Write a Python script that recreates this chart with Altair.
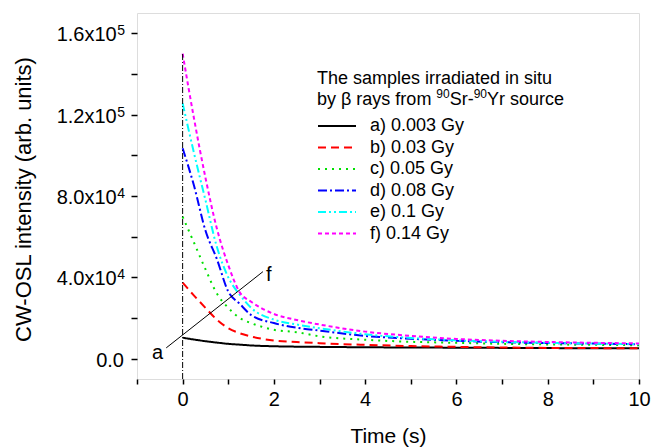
import altair as alt
import pandas as pd

# ---- data ----
time = [0, 0.25, 0.5, 0.75, 1, 1.25, 1.5, 2, 2.5, 3, 4, 5, 6, 7, 8, 9, 10]
series_labels = ["a) 0.003 Gy", "b) 0.03 Gy", "c) 0.05 Gy", "d) 0.08 Gy", "e) 0.1 Gy", "f) 0.14 Gy"]
a_vals = [10300, 9400, 8600, 7900, 7300, 6900, 6500, 6100, 5900, 5800, 5600, 5500, 5400, 5300, 5200, 5150, 5100]
b_vals = [37400, 31000, 25000, 19200, 15000, 12500, 10900, 8900, 8200, 7600, 6800, 6200, 5800, 5500, 5300, 5200, 5100]
c_vals = [69800, 57000, 44000, 32000, 25000, 20000, 17500, 14200, 13000, 11000, 9300, 8300, 7800, 7300, 7000, 6800, 6600]
d_vals = [103500, 85000, 63000, 49000, 33000, 27000, 21500, 17500, 15200, 13800, 11200, 9800, 8800, 8100, 7700, 7400, 7100]
e_vals = [125600, 101000, 78000, 55000, 40000, 31500, 25000, 19200, 16800, 15000, 12000, 10200, 9000, 8300, 7800, 7400, 7200]
f_vals = [150000, 118000, 89000, 64000, 46000, 32700, 28000, 22000, 19000, 16800, 13300, 11200, 9700, 8800, 8200, 7800, 7500]

series_colors = ["#000000", "#FF0000", "#00E000", "#0000FF", "#00FFFF", "#FF00FF"]
series_dashes = [[1, 0], [8, 5], [2, 5], [9, 3, 2, 3], [8, 3, 2, 3, 2, 3], [4, 3]]

x_ticks = [-1, 0, 1, 2, 3, 4, 5, 6, 7, 8, 9, 10]
y_ticks = [0, 20000, 40000, 60000, 80000, 100000, 120000, 140000, 160000]
y_label_values = [0, 40000, 80000, 120000, 160000]
y_label_base = ["0.0", "4.0x10", "8.0x10", "1.2x10", "1.6x10"]
y_label_exp = ["", "4", "4", "5", "5"]

# vertical dash-dot marker at t = 0
vline_x = [0]
vline_y = [-10000]
vline_y2 = [150000]

# diagonal guide "a" -> "f"
guide_x = [-0.36, 1.76]
guide_y = [5300, 42800]
ann_text = ["a", "f"]
ann_x = [-0.55, 1.89]
ann_y = [2900, 41000]

# legend heading text pieces (line 2 has superscript mass numbers)
head_line1 = "The samples irradiated in situ"
head_segments = ["by \u03b2 rays from ", "90", "Sr-", "90", "Yr source"]
head_is_sup = [False, True, False, True, False]

# ---- build tables ----
rows = []
for lab, vals in zip(series_labels, [a_vals, b_vals, c_vals, d_vals, e_vals, f_vals]):
    for t, v in zip(time, vals):
        rows.append({"t": t, "v": v, "s": lab})
df = pd.DataFrame(rows)

FONT = "Liberation Sans"
HEAD_SIZE = 18
SUP_SIZE = 12
W = {"b": .556, "y": .5, " ": .278, "\u03b2": .572, "r": .333, "a": .556, "s": .5, "f": .278,
     "o": .556, "m": .833, "9": .556, "0": .556, "S": .667, "-": .333, "Y": .667, "u": .556,
     "c": .5, "e": .556}

def text_width(txt, size):
    return sum(W.get(ch, .556) for ch in txt) * size

HEAD_X = 180
LINE1_Y = 71
LINE2_Y = 92
SUP_RAISE = 7

seg_rows = []
cx = HEAD_X
for txt, sup in zip(head_segments, head_is_sup):
    size = SUP_SIZE if sup else HEAD_SIZE
    seg_rows.append({"txt": txt, "px": cx, "py": LINE2_Y - (SUP_RAISE if sup else 0), "sz": size})
    cx += text_width(txt, size)
seg_df = pd.DataFrame(seg_rows)

# y tick labels with real superscripts
TICK_SIZE = 20
EXP_SIZE = 14
LABEL_RIGHT = -12          # right edge of labels, relative to plot left
ylab_df = pd.DataFrame({
    "v": y_label_values, "base": y_label_base, "exp": y_label_exp,
    "bx": [LABEL_RIGHT - (text_width(e, EXP_SIZE) + 0.5 if e else 1) for e in y_label_exp],
})

xscale = alt.Scale(domain=[-1, 10], nice=False, zero=False)
yscale = alt.Scale(domain=[-10000, 170000], nice=False, zero=False)

legend = alt.Legend(
    orient="none", legendX=180, legendY=104, title=None,
    labelFontSize=18, labelFont=FONT, labelColor="black", labelOffset=13,
    symbolType="stroke", symbolSize=1444, symbolStrokeWidth=2, clipHeight=18,
    rowPadding=3.5, padding=0, symbolOffset=0,
)

lines = alt.Chart(df).mark_line(strokeWidth=2, interpolate="monotone").encode(
    x=alt.X("t:Q", scale=xscale, axis=alt.Axis(
        values=x_ticks, title="Time (s)",
        labelExpr="datum.value % 2 == 0 ? datum.value : ''",
        labelFontSize=TICK_SIZE, titleFontSize=21, titleFontWeight="normal",
        tickSize=5, tickWidth=1.5, tickColor="black", labelColor="black", titleColor="black",
        labelPadding=5, labelFlush=False, labelOverlap=False,
        domain=False, grid=False, titleY=63, titleBaseline="alphabetic",
        labelFont=FONT, titleFont=FONT,
    )),
    y=alt.Y("v:Q", scale=yscale, axis=alt.Axis(
        values=y_ticks, title="CW-OSL intensity (arb. units)", labels=False,
        titleFontSize=22, titleFontWeight="normal",
        tickSize=6, tickWidth=1.5, tickColor="black", titleColor="black",
        domain=False, grid=False, titleX=-114, titleY=186,
        titleAngle=-90, titleAlign="center", titleBaseline="middle",
        titleFont=FONT,
    )),
    color=alt.Color("s:N", scale=alt.Scale(domain=series_labels, range=series_colors), legend=legend),
    strokeDash=alt.StrokeDash("s:N", scale=alt.Scale(domain=series_labels, range=series_dashes), legend=legend),
)

ylab_base = alt.Chart(ylab_df).mark_text(
    fontSize=TICK_SIZE, font=FONT, color="black", align="right", baseline="alphabetic", dy=8
).encode(x=alt.X("bx:Q", scale=None), y=alt.Y("v:Q", scale=yscale), text="base:N")

ylab_exp = alt.Chart(ylab_df).mark_text(
    fontSize=EXP_SIZE, font=FONT, color="black", align="right", baseline="alphabetic", dy=2
).encode(x=alt.value(LABEL_RIGHT), y=alt.Y("v:Q", scale=yscale), text="exp:N")

vline = alt.Chart(pd.DataFrame({"x": vline_x, "y": vline_y, "y2": vline_y2})).mark_rule(
    color="black", strokeWidth=1, strokeDash=[6, 2, 1, 2]
).encode(x=alt.X("x:Q", scale=xscale), y=alt.Y("y:Q", scale=yscale), y2="y2:Q")

guide = alt.Chart(pd.DataFrame({"x": guide_x, "y": guide_y})).mark_line(
    color="black", strokeWidth=1
).encode(x=alt.X("x:Q", scale=xscale), y=alt.Y("y:Q", scale=yscale))

ann = alt.Chart(pd.DataFrame({"x": ann_x, "y": ann_y, "txt": ann_text})).mark_text(
    fontSize=20, font=FONT, color="black", align="center", baseline="middle"
).encode(x=alt.X("x:Q", scale=xscale), y=alt.Y("y:Q", scale=yscale), text="txt:N")

head1 = alt.Chart(pd.DataFrame({"txt": [head_line1]})).mark_text(
    fontSize=HEAD_SIZE, font=FONT, color="black", align="left", baseline="alphabetic"
).encode(x=alt.value(HEAD_X), y=alt.value(LINE1_Y), text="txt:N")

head2 = alt.Chart(seg_df).mark_text(
    font=FONT, color="black", align="left", baseline="alphabetic"
).encode(
    x=alt.X("px:Q", scale=None), y=alt.Y("py:Q", scale=None), text="txt:N",
    size=alt.Size("sz:Q", scale=None, legend=None),
)

chart = alt.layer(lines, vline, guide, ann, head1, head2, ylab_base, ylab_exp).properties(
    width=502, height=366,
    padding={"left": 137, "top": 13, "right": 13, "bottom": 68},
    autosize=alt.AutoSizeParams(type="none"),
    background="white",
).configure_view(stroke="black", strokeWidth=1.5, clip=False).configure(font=FONT)

chart.save("out.html", embed_options={"renderer": "svg", "actions": False})
